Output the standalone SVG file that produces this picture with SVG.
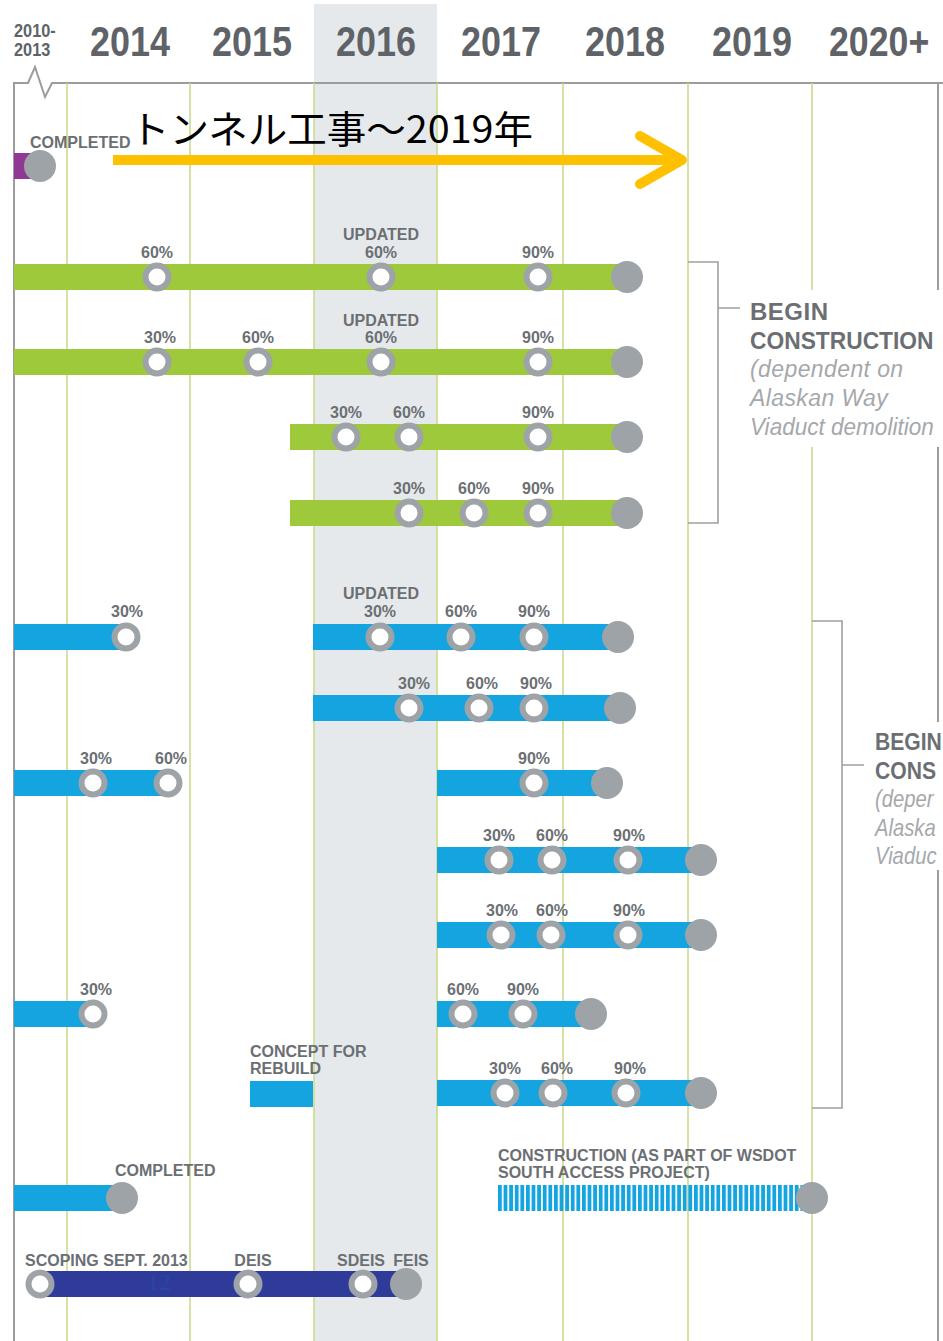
<svg xmlns="http://www.w3.org/2000/svg" xmlns:xlink="http://www.w3.org/1999/xlink" width="943" height="1341" viewBox="0 0 943 1341">
<style>
.yr{font-family:"Liberation Sans",Arial,sans-serif;font-weight:bold;fill:#5f6368;font-size:42px}
.yrs{font-family:"Liberation Sans",Arial,sans-serif;font-weight:bold;fill:#5f6368;font-size:19px}
.lbl{font-family:"Liberation Sans",Arial,sans-serif;font-weight:bold;fill:#6b6f73;font-size:16px;text-anchor:middle}
.lbs{font-family:"Liberation Sans",Arial,sans-serif;font-weight:bold;fill:#6b6f73;font-size:16px}
.big{font-family:"Liberation Sans",Arial,sans-serif;font-weight:bold;fill:#6b6f73;font-size:24px}
.it{font-family:"Liberation Sans",Arial,sans-serif;font-style:italic;fill:#a5a8ab;font-size:23px}
.gl{stroke:#cbdb8e;stroke-width:1.6;fill:none}
.fr{stroke:#9c9c9c;stroke-width:2;fill:none}
.br{stroke:#a0a0a0;stroke-width:1.6;fill:none}
.g{fill:#9dc93b}
.b{fill:#14a4e0}
.n{fill:#2f3b98}
</style>
<defs>
<circle id="ring" r="11.5" fill="#ffffff" stroke="#9ea3a8" stroke-width="6"/>
<circle id="dot" r="16" fill="#9ea3a8"/>
<pattern id="hatch" x="498" y="0" width="5.6" height="40" patternUnits="userSpaceOnUse"><rect width="3.8" height="40" fill="#14a4e0"/></pattern>
</defs>
<rect width="943" height="1341" fill="#ffffff"/>
<rect x="314" y="4" width="123" height="1337" fill="#e6e9ec"/>
<g id="years">
<text class="yrs" transform="translate(14,37) scale(0.86,1)">2010-</text>
<text class="yrs" transform="translate(14,56) scale(0.86,1)">2013</text>
<text class="yr" transform="translate(90,56) scale(0.856,1)">2014</text>
<text class="yr" transform="translate(212,56) scale(0.856,1)">2015</text>
<text class="yr" transform="translate(336,56) scale(0.856,1)">2016</text>
<text class="yr" transform="translate(461,56) scale(0.856,1)">2017</text>
<text class="yr" transform="translate(585,56) scale(0.856,1)">2018</text>
<text class="yr" transform="translate(712,56) scale(0.856,1)">2019</text>
<text class="yr" transform="translate(829,56) scale(0.85,1)">2020+</text>
</g>
<g id="grid">
<polyline class="fr" points="943,83 52,83 45,97 35,67 28,83 14,83 14,1341"/>
<line class="fr" x1="938" y1="83" x2="938" y2="1341"/>
<path class="gl" d="M67,83V1341M190,83V1341M314,83V1341M437,83V1341M563,83V1341M688,83V1341M812,83V1341"/>
</g>
<g id="connectors">
<path class="br" d="M688,262H718V523H688M718,308H740"/>
<path class="br" d="M812,621H842V1108H812M842,765H864"/>
</g>
<g id="note1">
<rect x="744" y="290" width="199" height="157" fill="#ffffff"/>
<text class="big" x="750" y="320" letter-spacing="0.5">BEGIN</text>
<text class="big" transform="translate(750,349) scale(0.95,1)">CONSTRUCTION</text>
<text class="it" x="750" y="377" letter-spacing="0.4">(dependent on</text>
<text class="it" x="750" y="406" letter-spacing="0.4">Alaskan Way</text>
<text class="it" transform="translate(750,435) scale(0.98,1)">Viaduct demolition</text>
</g>
<g id="note2">
<rect x="868" y="722" width="75" height="148" fill="#ffffff"/>
<g transform="translate(875,0) scale(0.88,1)">
<text class="big" x="0" y="750">BEGIN</text>
<text class="big" x="0" y="779">CONS</text>
<text class="it" x="0" y="807">(deper</text>
<text class="it" x="0" y="836">Alaska</text>
<text class="it" x="0" y="864">Viaduc</text>
</g>
</g>
<g id="row-purple">
<rect x="14" y="153" width="26" height="26" fill="#8e3a94"/>
<use href="#dot" x="40" y="166"/>
<text class="lbs" x="30" y="148">COMPLETED</text>
</g>
<g id="row-g1">
<rect class="g" x="14" y="264" width="613" height="26"/>
<use href="#ring" x="157" y="277"/><use href="#ring" x="381" y="277"/><use href="#ring" x="538" y="277"/><use href="#dot" x="627" y="277"/>
<text class="lbl" x="157" y="258">60%</text>
<text class="lbl" x="381" y="240">UPDATED</text><text class="lbl" x="381" y="258">60%</text>
<text class="lbl" x="538" y="258">90%</text>
</g>
<g id="row-g2">
<rect class="g" x="14" y="349" width="613" height="26"/>
<use href="#ring" x="157" y="362"/><use href="#ring" x="258" y="362"/><use href="#ring" x="381" y="362"/><use href="#ring" x="538" y="362"/><use href="#dot" x="627" y="362"/>
<text class="lbl" x="160" y="343">30%</text>
<text class="lbl" x="258" y="343">60%</text>
<text class="lbl" x="381" y="326">UPDATED</text><text class="lbl" x="381" y="343">60%</text>
<text class="lbl" x="538" y="343">90%</text>
</g>
<g id="row-g3">
<rect class="g" x="290" y="424" width="337" height="26"/>
<use href="#ring" x="346" y="437"/><use href="#ring" x="409" y="437"/><use href="#ring" x="538" y="437"/><use href="#dot" x="627" y="437"/>
<text class="lbl" x="346" y="418">30%</text>
<text class="lbl" x="409" y="418">60%</text>
<text class="lbl" x="538" y="418">90%</text>
</g>
<g id="row-g4">
<rect class="g" x="290" y="500" width="337" height="26"/>
<use href="#ring" x="409" y="513"/><use href="#ring" x="474" y="513"/><use href="#ring" x="538" y="513"/><use href="#dot" x="627" y="513"/>
<text class="lbl" x="409" y="494">30%</text>
<text class="lbl" x="474" y="494">60%</text>
<text class="lbl" x="538" y="494">90%</text>
</g>
<g id="row-b1a">
<rect class="b" x="14" y="624" width="112" height="26"/>
<use href="#ring" x="126" y="637"/>
<text class="lbl" x="127" y="617">30%</text>
</g>
<g id="row-b1b">
<rect class="b" x="313" y="624" width="305" height="26"/>
<use href="#ring" x="380" y="637"/><use href="#ring" x="461" y="637"/><use href="#ring" x="534" y="637"/><use href="#dot" x="618" y="637"/>
<text class="lbl" x="381" y="599">UPDATED</text><text class="lbl" x="380" y="617">30%</text>
<text class="lbl" x="461" y="617">60%</text>
<text class="lbl" x="534" y="617">90%</text>
</g>
<g id="row-b2">
<rect class="b" x="313" y="695" width="307" height="26"/>
<use href="#ring" x="409" y="708"/><use href="#ring" x="479" y="708"/><use href="#ring" x="534" y="708"/><use href="#dot" x="620" y="708"/>
<text class="lbl" x="414" y="689">30%</text>
<text class="lbl" x="482" y="689">60%</text>
<text class="lbl" x="536" y="689">90%</text>
</g>
<g id="row-b3a">
<rect class="b" x="14" y="770" width="154" height="26"/>
<use href="#ring" x="93" y="783"/><use href="#ring" x="168" y="783"/>
<text class="lbl" x="96" y="764">30%</text>
<text class="lbl" x="171" y="764">60%</text>
</g>
<g id="row-b3b">
<rect class="b" x="437" y="770" width="170" height="26"/>
<use href="#ring" x="534" y="783"/><use href="#dot" x="607" y="783"/>
<text class="lbl" x="534" y="764">90%</text>
</g>
<g id="row-b4">
<rect class="b" x="437" y="847" width="264" height="26"/>
<use href="#ring" x="499" y="860"/><use href="#ring" x="552" y="860"/><use href="#ring" x="628" y="860"/><use href="#dot" x="701" y="860"/>
<text class="lbl" x="499" y="841">30%</text>
<text class="lbl" x="552" y="841">60%</text>
<text class="lbl" x="629" y="841">90%</text>
</g>
<g id="row-b5">
<rect class="b" x="437" y="922" width="264" height="26"/>
<use href="#ring" x="501" y="935"/><use href="#ring" x="551" y="935"/><use href="#ring" x="628" y="935"/><use href="#dot" x="701" y="935"/>
<text class="lbl" x="502" y="916">30%</text>
<text class="lbl" x="552" y="916">60%</text>
<text class="lbl" x="629" y="916">90%</text>
</g>
<g id="row-b6a">
<rect class="b" x="14" y="1001" width="79" height="26"/>
<use href="#ring" x="93" y="1014"/>
<text class="lbl" x="96" y="995">30%</text>
</g>
<g id="row-b6b">
<rect class="b" x="437" y="1001" width="154" height="26"/>
<use href="#ring" x="463" y="1014"/><use href="#ring" x="523" y="1014"/><use href="#dot" x="591" y="1014"/>
<text class="lbl" x="463" y="995">60%</text>
<text class="lbl" x="523" y="995">90%</text>
</g>
<g id="row-b7a">
<rect class="b" x="250" y="1081" width="63" height="26"/>
<text class="lbs" x="250" y="1057">CONCEPT FOR</text>
<text class="lbs" x="250" y="1074">REBUILD</text>
</g>
<g id="row-b7b">
<rect class="b" x="437" y="1080" width="264" height="26"/>
<use href="#ring" x="505" y="1093"/><use href="#ring" x="553" y="1093"/><use href="#ring" x="626" y="1093"/><use href="#dot" x="701" y="1093"/>
<text class="lbl" x="505" y="1074">30%</text>
<text class="lbl" x="557" y="1074">60%</text>
<text class="lbl" x="630" y="1074">90%</text>
</g>
<g id="row-b8">
<rect class="b" x="14" y="1185" width="108" height="26"/>
<use href="#dot" x="122" y="1198"/>
<text class="lbs" x="115" y="1176">COMPLETED</text>
</g>
<g id="row-hatch">
<rect x="498" y="1185" width="307" height="26" fill="url(#hatch)"/>
<use href="#dot" x="812" y="1198"/>
<text class="lbs" x="498" y="1161">CONSTRUCTION (AS PART OF WSDOT</text>
<text class="lbs" x="498" y="1178">SOUTH ACCESS PROJECT)</text>
</g>
<g id="row-navy">
<rect class="n" x="40" y="1271" width="366" height="26"/>
<use href="#ring" x="40" y="1284"/><use href="#ring" x="248" y="1284"/><use href="#ring" x="363" y="1284"/><use href="#dot" x="406" y="1284"/>
<text class="lbs" x="25" y="1266">SCOPING SEPT. 2013</text>
<text class="lbl" x="253" y="1266">DEIS</text>
<text class="lbl" x="361" y="1266">SDEIS</text>
<text class="lbl" x="411" y="1266">FEIS</text>
<text x="147" y="1290" font-family="'Liberation Serif',serif" font-size="24" fill="#2b45a8">12</text>
</g>
<g id="tunnel-arrow">
<line x1="113" y1="160" x2="678" y2="160" stroke="#ffc000" stroke-width="10"/>
<polyline points="640,136 682,160 640,184" fill="none" stroke="#ffc000" stroke-width="10" stroke-linecap="round" stroke-linejoin="round"/>
<text x="130" y="143" font-family="'Noto Sans CJK JP','Noto Sans CJK SC',sans-serif" font-size="38" fill="#000000" textLength="403" lengthAdjust="spacingAndGlyphs">トンネル工事～2019年</text>
</g>
</svg>
